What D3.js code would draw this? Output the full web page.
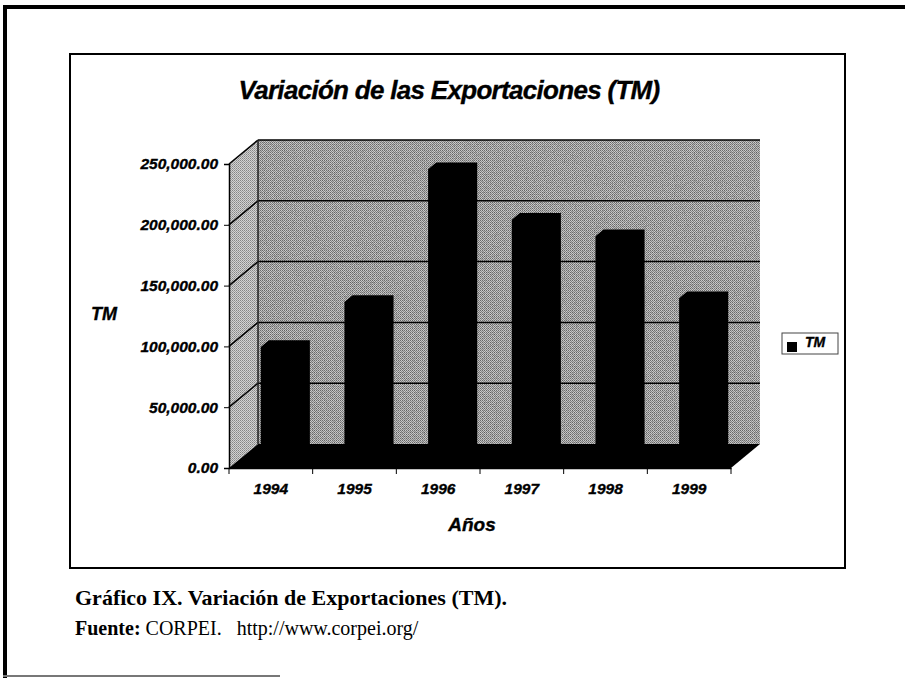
<!DOCTYPE html>
<html>
<head>
<meta charset="utf-8">
<script src="https://cdn.jsdelivr.net/npm/d3@7"></script>
<style>
  body { margin: 0; background: #fff; }
  svg { display: block; }
</style>
</head>
<body>
<div id="chart"></div>
<script>
// Data
const years = ["1994", "1995", "1996", "1997", "1998", "1999"];
const tm = [92500, 129500, 238500, 197000, 183500, 132500];
const yTicks = [0, 50000, 100000, 150000, 200000, 250000];

const width = 905, height = 678;
const sans = "'Liberation Sans', Arial, sans-serif";
const serif = "'Liberation Serif', 'Times New Roman', serif";

// 3D box: front plane and depth offset
const front = { left: 229, right: 731, bottom: 468, top: 164 };
const depth = { dx: 29, dy: -24 };
const shift = (t) => [t * depth.dx, t * depth.dy];

const x = d3.scaleBand().domain(years).range([front.left, front.right]);
const xBar = d3.scaleBand().domain(years).range([front.left, front.right])
    .paddingInner(0.51).paddingOuter(0.255);
const y = d3.scaleLinear().domain([0, 250000]).range([front.bottom, front.top]);

const svg = d3.select("#chart").append("svg")
    .attr("width", width)
    .attr("height", height);

// Halftone textures for the walls
const defs = svg.append("defs");
const pat = defs.append("pattern")
    .attr("id", "dots").attr("width", 2).attr("height", 2)
    .attr("patternUnits", "userSpaceOnUse");
pat.append("rect").attr("width", 2).attr("height", 2).attr("fill", "#cccccc");
pat.append("rect").attr("width", 1).attr("height", 1).attr("fill", "#707070");
pat.append("rect").attr("x", 1).attr("y", 1).attr("width", 1).attr("height", 1).attr("fill", "#8c8c8c");

const noise = defs.append("filter").attr("id", "noise")
    .attr("x", 0).attr("y", 0).attr("width", 1).attr("height", 1);
noise.append("feTurbulence").attr("type", "fractalNoise")
    .attr("baseFrequency", 0.9).attr("numOctaves", 2).attr("seed", 4);
noise.append("feColorMatrix").attr("type", "matrix")
    .attr("values", "0 0 0 0 0  0 0 0 0 0  0 0 0 0 0  -1.6 0 0 0 0.95");

// shared style for the bold italic chart labels
const label = (sel, size) => sel
    .attr("font-family", sans).attr("font-size", size)
    .attr("font-weight", "bold").attr("font-style", "italic")
    .attr("fill", "#000").attr("stroke", "#000").attr("stroke-width", 0.35);

// Outer page frame
svg.append("line").attr("x1", 3).attr("x2", width).attr("y1", 7).attr("y2", 7)
    .attr("stroke", "#000").attr("stroke-width", 4);
svg.append("line").attr("x1", 5).attr("x2", 5).attr("y1", 5).attr("y2", height)
    .attr("stroke", "#000").attr("stroke-width", 4);
svg.append("line").attr("x1", 3).attr("x2", 280).attr("y1", 676).attr("y2", 676)
    .attr("stroke", "#777").attr("stroke-width", 2);

// Chart area box
svg.append("rect").attr("x", 70).attr("y", 54).attr("width", 775).attr("height", 514)
    .attr("fill", "none").attr("stroke", "#000").attr("stroke-width", 2);

// Title
svg.append("text")
    .attr("x", 449).attr("y", 99)
    .attr("text-anchor", "middle")
    .call(label, 26)
    .attr("letter-spacing", -0.7)
    .text("Variación de las Exportaciones (TM)");

const [bx, by] = shift(1);

// Back wall
const backWall = [[front.left + bx, y(250000) + by], [front.right + bx, y(250000) + by],
    [front.right + bx, y(0) + by], [front.left + bx, y(0) + by]];
svg.append("polygon").attr("points", backWall.join(" ")).attr("fill", "url(#dots)");
svg.append("polygon").attr("points", backWall.join(" ")).attr("fill", "#000")
    .attr("filter", "url(#noise)").attr("opacity", 0.3);

// Side wall
const sideWall = [[front.left, y(250000)], [front.left + bx, y(250000) + by],
    [front.left + bx, y(0) + by], [front.left, y(0)]];
svg.append("polygon").attr("points", sideWall.join(" ")).attr("fill", "url(#dots)");
svg.append("polygon").attr("points", sideWall.join(" ")).attr("fill", "#fff").attr("opacity", 0.15);

// Gridlines: back wall and side wall
svg.append("g").selectAll("line").data(yTicks.slice(1)).join("line")
    .attr("x1", front.left + bx).attr("x2", front.right + bx)
    .attr("y1", (d) => y(d) + by).attr("y2", (d) => y(d) + by)
    .attr("stroke", "#000").attr("stroke-width", 1.5);
svg.append("g").selectAll("line").data(yTicks.slice(1)).join("line")
    .attr("x1", front.left).attr("x2", front.left + bx)
    .attr("y1", (d) => y(d)).attr("y2", (d) => y(d) + by)
    .attr("stroke", "#000").attr("stroke-width", 1.5);
svg.append("line")
    .attr("x1", front.left + bx).attr("x2", front.left + bx)
    .attr("y1", y(250000) + by).attr("y2", y(0) + by)
    .attr("stroke", "#222").attr("stroke-width", 1.5);

// Floor
const floor = [[front.left, y(0)], [front.right, y(0)],
    [front.right + bx, y(0) + by], [front.left + bx, y(0) + by]];
svg.append("polygon").attr("points", floor.join(" ")).attr("fill", "#000");

// Bars (front face + top face silhouette, all black)
const [s0x, s0y] = shift(0.36);
const [s1x, s1y] = shift(0.64);
svg.append("g").selectAll("polygon")
    .data(years.map((yr, i) => ({ yr, v: tm[i] })))
    .join("polygon")
    .attr("fill", "#000")
    .attr("points", (d) => {
        const x0 = xBar(d.yr), x1 = x0 + xBar.bandwidth();
        const yv = y(d.v), y0 = y(0);
        return [[x0 + s0x, y0 + s0y], [x0 + s0x, yv + s0y], [x0 + s1x, yv + s1y],
            [x1 + s1x, yv + s1y], [x1 + s1x, y0 + s1y], [x1 + s0x, y0 + s0y]].join(" ");
    });

// Y axis
svg.append("g")
    .attr("transform", `translate(${front.left},0)`)
    .call(d3.axisLeft(y).tickValues(yTicks).tickFormat(d3.format(",.2f"))
        .tickSize(5).tickPadding(6))
    .call((g) => g.select(".domain").attr("stroke", "#000").attr("stroke-width", 1.5))
    .call((g) => g.selectAll("text").call(label, 15.5));

// X axis: labels at band centres, ticks at band edges
svg.append("g")
    .attr("transform", `translate(0,${front.bottom})`)
    .call(d3.axisBottom(x).tickSize(0).tickPadding(15))
    .call((g) => g.select(".domain").attr("stroke", "#000").attr("stroke-width", 1.5))
    .call((g) => g.selectAll("text").call(label, 15.5));
svg.append("g").selectAll("line")
    .data(years.map((d) => x(d)).concat([front.right]))
    .join("line")
    .attr("x1", (d) => d).attr("x2", (d) => d)
    .attr("y1", front.bottom).attr("y2", front.bottom + 6)
    .attr("stroke", "#000").attr("stroke-width", 1);

// Axis titles
svg.append("text")
    .attr("x", 104).attr("y", 320)
    .attr("text-anchor", "middle")
    .call(label, 18)
    .text("TM");
svg.append("text")
    .attr("x", 472).attr("y", 531)
    .attr("text-anchor", "middle")
    .call(label, 19)
    .text("Años");

// Legend
const legend = svg.append("g");
legend.append("rect").attr("x", 782).attr("y", 333).attr("width", 56).attr("height", 21)
    .attr("fill", "#fff").attr("stroke", "#444").attr("stroke-width", 1);
legend.append("rect").attr("x", 787).attr("y", 342).attr("width", 10).attr("height", 10)
    .attr("fill", "#000");
legend.append("text").attr("x", 805).attr("y", 347)
    .call(label, 14)
    .text("TM");

// Caption below the chart
svg.append("text")
    .attr("x", 75).attr("y", 605)
    .attr("font-family", serif).attr("font-size", 22).attr("font-weight", "bold")
    .text("Gráfico IX. Variación de Exportaciones (TM).");
const src = svg.append("text")
    .attr("x", 75).attr("y", 635)
    .attr("font-family", serif).attr("font-size", 20)
    .attr("xml:space", "preserve");
src.append("tspan").attr("font-weight", "bold").text("Fuente:");
src.append("tspan").text(" CORPEI.   http://www.corpei.org/");
</script>
</body>
</html>
